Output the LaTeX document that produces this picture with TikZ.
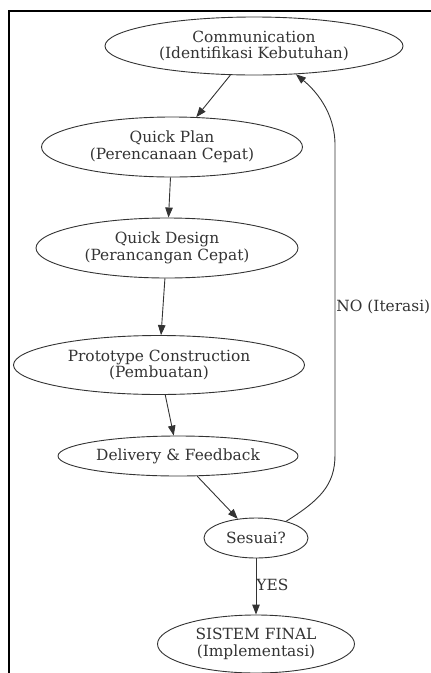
\documentclass[tikz,border=0pt]{standalone}
\usepackage{fontspec}
\setmainfont{DejaVu Serif}
\usetikzlibrary{shapes.geometric,arrows.meta}
\tikzset{
	tahap/.style={draw,ellipse,inner sep=0pt,align=center,font=\fontsize{15.4}{16.8}\selectfont},
	lbl/.style={inner sep=1pt,font=\fontsize{15.4}{16.8}\selectfont},
}
\begin{document}
\begin{tikzpicture}[>={Triangle[length=10pt,width=7.5pt]},x=1pt,y=-1pt,line width=0.9pt,color=black!80]
		\useasboundingbox (0,0) rectangle (431,673);
		\draw[line width=2pt,black] (8.5,673) -- (8.5,10.5) -- (431,10.5);
		% tahapan prototyping
		\node[tahap,minimum width=298pt,minimum height=58pt] (comm) at (254,46) {Communication\\(Identifikasi Kebutuhan)};
		\node[tahap,minimum width=261pt,minimum height=60pt] (plan) at (172,147) {Quick Plan\\(Perencanaan Cepat)};
		\node[tahap,minimum width=262pt,minimum height=60pt] (design) at (167,248) {Quick Design\\(Perancangan Cepat)};
		\node[tahap,minimum width=291pt,minimum height=59pt] (proto) at (159,365) {Prototype Construction\\(Pembuatan)};
		\node[tahap,minimum width=240pt,minimum height=40pt] (deliv) at (178,456) {Delivery \& Feedback};
		\node[tahap,minimum width=104pt,minimum height=40pt] (ses) at (256,538) {Sesuai?};
		\node[tahap,minimum width=197pt,minimum height=58pt] (final) at (256,644) {SISTEM FINAL\\(Implementasi)};
		% alur
		\draw[->] (comm) -- (plan);
		\draw[->] (plan) -- (design);
		\draw[->] (design) -- (proto);
		\draw[->] (proto) -- (deliv);
		\draw[->] (deliv) -- (ses);
		\draw[->] (ses) -- node[lbl,anchor=west,pos=0.47,inner sep=0pt] {YES} (final);
		\draw[->] (ses.29) .. controls (320,500) and (335,485) .. (335,455) -- node[lbl,anchor=west,pos=0.477] {NO (Iterasi)} (335,145) .. controls (335,112) and (315,90) .. (comm.-34);
\end{tikzpicture}
\end{document}
